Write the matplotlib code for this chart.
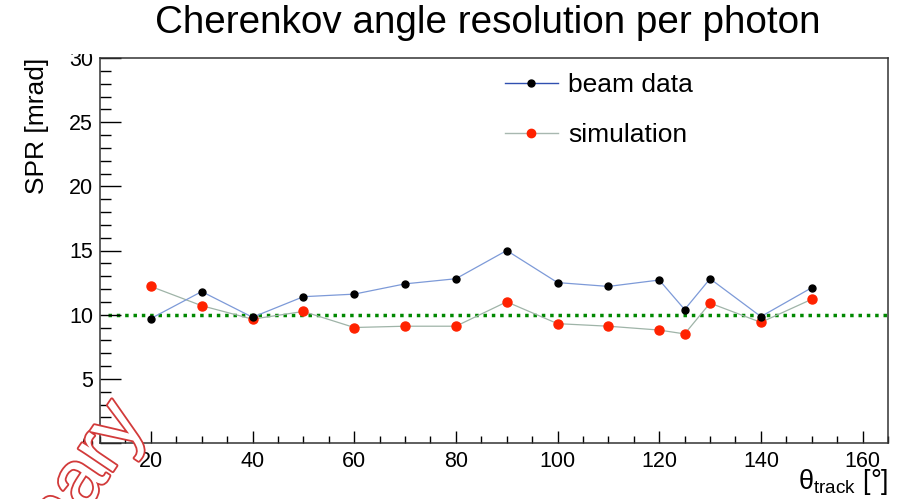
import matplotlib.pyplot as plt
import matplotlib.patheffects as pe
from matplotlib.lines import Line2D
from matplotlib.patches import Rectangle
from matplotlib.ticker import MultipleLocator

plt.rcParams['font.family'] = ['Liberation Sans', 'DejaVu Sans']
plt.rcParams['mathtext.fontset'] = 'custom'
plt.rcParams['mathtext.rm'] = 'Liberation Sans'
plt.rcParams['mathtext.it'] = 'Liberation Sans'

# track angle [deg]
theta = [20, 30, 40, 50, 60, 70, 80, 90, 100, 110, 120, 125, 130, 140, 150]
# single photon resolution [mrad]
spr_beam = [9.7, 11.8, 9.8, 11.4, 11.6, 12.4, 12.8, 15.0, 12.5, 12.2, 12.7, 10.4, 12.8, 9.85, 12.1]
spr_sim = [12.2, 10.7, 9.65, 10.25, 9.0, 9.1, 9.1, 11.0, 9.3, 9.1, 8.8, 8.5, 10.9, 9.4, 11.2]
spr_ref = 10.0

W, H = 899, 499
fig = plt.figure(figsize=(W / 100, H / 100), dpi=100)
ax = fig.add_axes([100 / W, 56 / H, 788 / W, 385 / H])

ax.axhline(spr_ref, xmin=(11.5 - 10) / 155, xmax=1, color='#008800', lw=2.5,
           linestyle=(0, (1, 1.4)), dash_capstyle='butt', zorder=1)
ax.plot(theta, spr_beam, color='#7d9ad8', lw=0.9, marker='o', ms=5,
        mfc='black', mec='black', zorder=3)
ax.plot(theta, spr_sim, color='#9fb4a8', lw=0.9, marker='o', ms=6.5,
        mfc='#ff2200', mec='#ff2200', zorder=2)

ax.set_xlim(10, 165)
ax.set_ylim(0, 30)
ax.xaxis.set_major_locator(MultipleLocator(20))
ax.xaxis.set_minor_locator(MultipleLocator(5))
ax.yaxis.set_major_locator(MultipleLocator(5))
ax.yaxis.set_minor_locator(MultipleLocator(1))
ax.tick_params(axis='both', which='both', direction='in', colors='black',
               labelsize=15.5, width=1.0)
ax.tick_params(axis='y', which='major', length=15, pad=5)
ax.tick_params(axis='y', which='minor', length=8)
ax.tick_params(axis='x', which='major', length=9, pad=6)
ax.tick_params(axis='x', which='minor', length=4.8)
for s in ax.spines.values():
    s.set_linewidth(1.1)
    s.set_color('#333333')

ax.set_ylabel('SPR [mrad]', fontsize=19, loc='top', labelpad=14)
ax.set_xlabel(r'$\theta_{\mathrm{track}}$ [°]', fontsize=19.5, loc='right', labelpad=-4)

handles = [
    Line2D([], [], color='#3050b0', lw=1, marker='o', ms=5, mfc='black', mec='black'),
    Line2D([], [], color='#a8b8b0', lw=1, marker='o', ms=6, mfc='#ff2200', mec='#ff2200'),
]
ax.legend(handles, ['beam data', 'simulation'], loc='upper left',
          bbox_to_anchor=(0.514, 0.96), frameon=False, fontsize=19,
          handlelength=2.0, handletextpad=0.4, labelspacing=0.98,
          borderpad=0, borderaxespad=0)

# the title box masks whatever sits above the frame
fig.patches.append(Rectangle((0, 445 / H), 1, 1, transform=fig.transFigure,
                             facecolor='white', edgecolor='none', zorder=5))
fig.text(0.543, 0.953, 'Cherenkov angle resolution per photon', fontsize=27.8,
         ha='center', va='center', zorder=6)

fig.text(146 / W, 1 - 422 / H, 'Preliminary', fontsize=56, rotation=56,
         rotation_mode='anchor', ha='right', va='baseline', color='white',
         zorder=7, path_effects=[pe.Stroke(linewidth=2.6, foreground='#d23a3a'),
                                 pe.Normal()])

fig.savefig('out.png', dpi=100)
